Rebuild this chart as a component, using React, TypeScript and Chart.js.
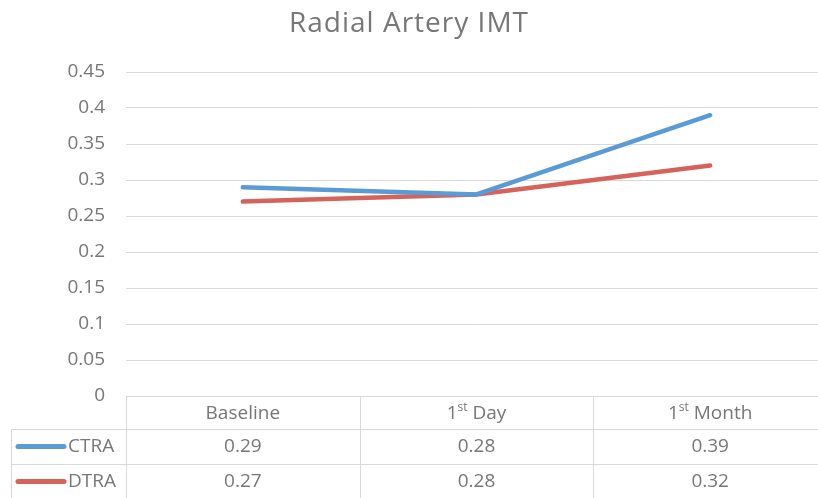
import { useEffect, useRef } from "react";
import { Chart, registerables } from "chart.js";

Chart.register(...registerables);

const titleText = "Radial Artery IMT";
const categories = ["Baseline", "1st Day", "1st Month"];
const seriesNames = ["CTRA", "DTRA"];
const ctraValues = [0.29, 0.28, 0.39];
const dtraValues = [0.27, 0.28, 0.32];
const seriesColors = ["#5B9BD5", "#D6625C"];
const yMax = 0.45;
const yStep = 0.05;

const FONT = "'Open Sans', sans-serif";
const TEXT = "#777777";
const GRID = "#D9D9D9";

function drawLabel(ctx: CanvasRenderingContext2D, label: string, cx: number, cy: number, size: number) {
  const m = label.match(/^(\d+)(st|nd|rd|th)(.*)$/);
  ctx.textBaseline = "middle";
  if (!m) {
    ctx.font = `${size}px ${FONT}`;
    ctx.textAlign = "center";
    ctx.fillText(label, cx, cy);
    return;
  }
  const sup = Math.round(size * 0.62);
  ctx.font = `${size}px ${FONT}`;
  const w1 = ctx.measureText(m[1]).width;
  const w3 = ctx.measureText(m[3]).width;
  ctx.font = `${sup}px ${FONT}`;
  const w2 = ctx.measureText(m[2]).width;
  let x = cx - (w1 + w2 + w3) / 2;
  ctx.textAlign = "left";
  ctx.font = `${size}px ${FONT}`;
  ctx.fillText(m[1], x, cy);
  x += w1;
  ctx.font = `${sup}px ${FONT}`;
  ctx.fillText(m[2], x, cy - size * 0.32);
  x += w2;
  ctx.font = `${size}px ${FONT}`;
  ctx.fillText(m[3], x, cy);
}

const tablePlugin = {
  id: "dataTable",
  afterDraw(chart: any) {
    const ctx: CanvasRenderingContext2D = chart.ctx;
    const area = chart.chartArea;
    const xs = chart.scales.x;
    const top = area.bottom;
    const rowH = [33, 35, 35];
    const tableLeft = 11;
    const rowsY = [top, top + rowH[0], top + rowH[0] + rowH[1], top + rowH[0] + rowH[1] + rowH[2]];
    const centers = categories.map((_, i) => xs.getPixelForValue(i));
    const bounds = [area.left];
    for (let i = 0; i < centers.length - 1; i++) bounds.push((centers[i] + centers[i + 1]) / 2);
    bounds.push(area.right);

    ctx.save();
    // title
    ctx.fillStyle = TEXT;
    ctx.font = `28px ${FONT}`;
    (ctx as any).letterSpacing = "1px";
    ctx.textAlign = "center";
    ctx.textBaseline = "alphabetic";
    ctx.fillText(titleText, 409, 32);
    (ctx as any).letterSpacing = "0px";

    // grid
    ctx.strokeStyle = GRID;
    ctx.lineWidth = 1;
    ctx.beginPath();
    ctx.moveTo(area.left, rowsY[0] + 0.5);
    ctx.lineTo(area.right, rowsY[0] + 0.5);
    for (let r = 1; r < rowsY.length; r++) {
      ctx.moveTo(tableLeft, Math.round(rowsY[r]) + 0.5);
      ctx.lineTo(area.right, Math.round(rowsY[r]) + 0.5);
    }
    ctx.moveTo(tableLeft + 0.5, rowsY[1]);
    ctx.lineTo(tableLeft + 0.5, rowsY[3]);
    bounds.forEach((b) => {
      ctx.moveTo(Math.round(b) + 0.5, rowsY[0]);
      ctx.lineTo(Math.round(b) + 0.5, rowsY[3]);
    });
    ctx.stroke();

    // header
    ctx.fillStyle = TEXT;
    categories.forEach((c, i) => drawLabel(ctx, c, centers[i], (rowsY[0] + rowsY[1]) / 2 + 1, 19));

    const allValues = [ctraValues, dtraValues];
    allValues.forEach((vals, s) => {
      const cy = (rowsY[s + 1] + rowsY[s + 2]) / 2;
      ctx.strokeStyle = seriesColors[s];
      ctx.lineWidth = 5;
      ctx.lineCap = "round";
      ctx.beginPath();
      ctx.moveTo(18, cy);
      ctx.lineTo(64, cy);
      ctx.stroke();
      ctx.fillStyle = TEXT;
      ctx.font = `19px ${FONT}`;
      ctx.textAlign = "left";
      ctx.textBaseline = "middle";
      ctx.fillText(seriesNames[s], 68, cy);
      ctx.textAlign = "center";
      vals.forEach((v, i) => ctx.fillText(String(v), centers[i], cy));
    });
    ctx.restore();
  },
};

export default function App() {
  const ref = useRef<HTMLCanvasElement | null>(null);
  useEffect(() => {
    if (!ref.current) return;
    const chart = new Chart(ref.current, {
      type: "line",
      data: {
        labels: categories,
        datasets: [
          {
            label: seriesNames[0],
            data: ctraValues,
            borderColor: seriesColors[0],
            backgroundColor: seriesColors[0],
            borderWidth: 4.5,
            pointRadius: 0,
            tension: 0,
            borderCapStyle: "round",
            borderJoinStyle: "round",
          },
          {
            label: seriesNames[1],
            data: dtraValues,
            borderColor: seriesColors[1],
            backgroundColor: seriesColors[1],
            borderWidth: 4.5,
            pointRadius: 0,
            tension: 0,
            borderCapStyle: "round",
            borderJoinStyle: "round",
          },
        ],
      },
      options: {
        animation: false,
        responsive: true,
        maintainAspectRatio: false,
        layout: { padding: { left: 0, right: 5, top: 72, bottom: 102 } },
        plugins: { legend: { display: false }, title: { display: false }, tooltip: { enabled: false } },
        scales: {
          x: { type: "category", display: false, offset: true },
          y: {
            min: 0,
            max: yMax,
            border: { display: false },
            grid: { color: GRID, lineWidth: 1, drawTicks: false },
            ticks: {
              stepSize: yStep,
              padding: 21,
              color: TEXT,
              font: { family: FONT, size: 19 },
              callback: (v: any) => String(+Number(v).toFixed(2)),
            },
            afterFit: (s: any) => {
              s.width = 126;
            },
          },
        },
      },
      plugins: [tablePlugin],
    });
    return () => chart.destroy();
  }, []);
  return (
    <div style={{ position: "fixed", left: 0, top: 0, width: 818, height: 498, overflow: "hidden", background: "#fff" }}>
      <div style={{ position: "absolute", left: 0, top: 0, width: 832, height: 498 }}>
        <canvas ref={ref} />
      </div>
    </div>
  );
}
